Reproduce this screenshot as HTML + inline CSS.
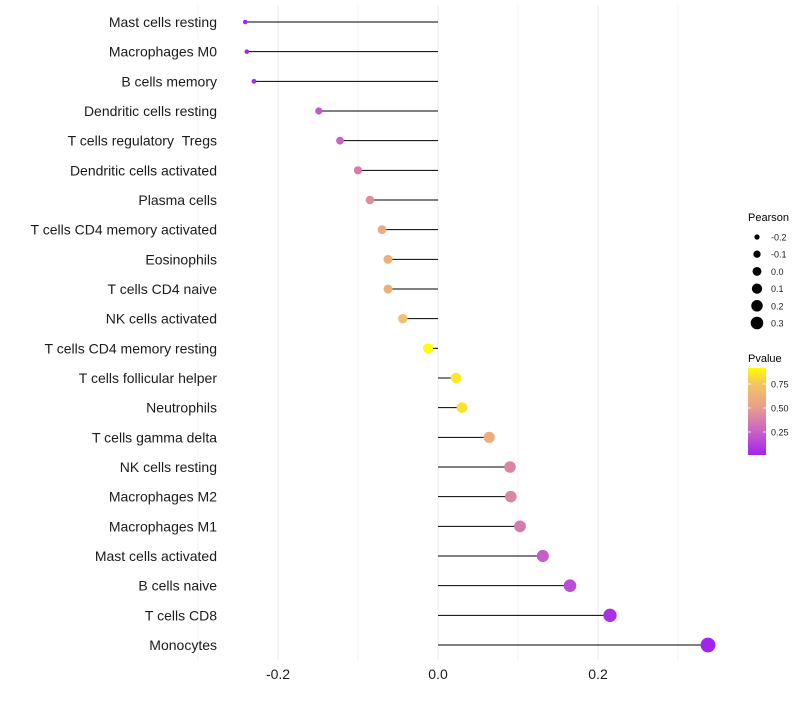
<!DOCTYPE html>
<html><head><meta charset="utf-8"><style>
body{margin:0;background:#fff;font-family:"Liberation Sans",sans-serif;}
svg text{font-family:"Liberation Sans",sans-serif;}
</style></head><body>
<svg id="chart" width="800" height="700"></svg>
<script>
const categories=["Mast cells resting","Macrophages M0","B cells memory","Dendritic cells resting","T cells regulatory \u00a0Tregs","Dendritic cells activated","Plasma cells","T cells CD4 memory activated","Eosinophils","T cells CD4 naive","NK cells activated","T cells CD4 memory resting","T cells follicular helper","Neutrophils","T cells gamma delta","NK cells resting","Macrophages M2","Macrophages M1","Mast cells activated","B cells naive","T cells CD8","Monocytes"];
const pearson=[-0.241,-0.239,-0.230,-0.149,-0.1225,-0.100,-0.085,-0.070,-0.0625,-0.0625,-0.044,-0.0125,0.0225,0.030,0.064,0.090,0.091,0.1025,0.131,0.165,0.215,0.3375];
const pvalues=[0.02,0.03,0.05,0.22,0.26,0.36,0.44,0.58,0.62,0.62,0.72,0.92,0.86,0.84,0.6,0.4,0.4,0.36,0.24,0.17,0.06,0.01];
const xTicks=[-0.2,0.0,0.2];
const xTickLabels=["-0.2","0.0","0.2"];
const sizeLegend=[-0.2,-0.1,0.0,0.1,0.2,0.3];
const sizeLegendLabels=["-0.2","-0.1","0.0","0.1","0.2","0.3"];
const colorLegendTicks=[0.75,0.50,0.25];
const colorLegendLabels=["0.75","0.50","0.25"];

const NS="http://www.w3.org/2000/svg";
const svg=document.getElementById('chart');
const x=v=>438+v*800;
const y=i=>22+i*(623/21);
const r=v=>Math.sqrt(Math.max(2,5+(v+0.241)/0.5785*50));
const rl=v=>Math.sqrt(Math.max(1.5,4+(v+0.241)/0.5785*38));
const stops=[[0,[160,32,240]],[0.25,[200,96,200]],[0.5,[232,158,140]],[0.75,[244,196,100]],[0.92,[255,255,0]]];
function col(p){
  if(p<=stops[0][0])return 'rgb('+stops[0][1]+')';
  for(let k=1;k<stops.length;k++){
    if(p<=stops[k][0]){const a=stops[k-1],b=stops[k],t=(p-a[0])/(b[0]-a[0]);
      return 'rgb('+a[1].map((c,j)=>Math.round(c+(b[1][j]-c)*t)).join(',')+')';}
  }
  return 'rgb(255,255,0)';
}
function el(t,a,parent){const e=document.createElementNS(NS,t);for(const k in a)e.setAttribute(k,a[k]);(parent||svg).appendChild(e);return e;}

for(let k=-3;k<=3;k++){
  const v=k/10;
  const g=el('line',{x1:x(v),x2:x(v),y1:5,y2:660,stroke:k%2===0?'#ebebeb':'#f3f3f3','stroke-width':1});
  
  
}
categories.forEach((c,i)=>{
  const ln=el('line',{x1:x(0),x2:x(pearson[i]),y1:y(i),y2:y(i),stroke:'#000','stroke-width':1});
  
  
  const pt=el('circle',{cx:x(pearson[i]),cy:y(i),r:r(pearson[i]),fill:col(pvalues[i])});
  
  
  const t=el('text',{x:217,y:y(i)+5,'text-anchor':'end','font-size':14,fill:'#1a1a1a'});
  t.textContent=c;
  
  
});
xTicks.forEach((v,i)=>{
  const t=el('text',{x:x(v),y:679,'text-anchor':'middle','font-size':14,fill:'#1a1a1a'});
  t.textContent=xTickLabels[i];
  
  
});
const lt=el('text',{x:748,y:221,'font-size':11,fill:'#000'});lt.textContent='Pearson';


sizeLegend.forEach((v,i)=>{
  const cy=237+i*17.2;
  const c=el('circle',{cx:757,cy:cy,r:rl(v),fill:'#000'});
  
  
  const t=el('text',{x:771,y:cy+3.5,'font-size':9,fill:'#1a1a1a'});t.textContent=sizeLegendLabels[i];
  
  
});
const ct=el('text',{x:748,y:362,'font-size':11,fill:'#000'});ct.textContent='Pvalue';


const defs=el('defs',{});
const lg=el('linearGradient',{id:'pg',x1:0,y1:1,x2:0,y2:0},defs);
for(let k=0;k<=10;k++){const p=0.01+k*(0.917-0.01)/10;el('stop',{offset:k/10,'stop-color':col(p)},lg);}
const bar=el('rect',{x:748,y:368,width:18,height:87,fill:'url(#pg)'});


colorLegendTicks.forEach((v,i)=>{
  const yy=432-(v-0.25)*96;
  el('line',{x1:748,x2:751,y1:yy,y2:yy,stroke:'#fff','stroke-width':0.8});
  el('line',{x1:763,x2:766,y1:yy,y2:yy,stroke:'#fff','stroke-width':0.8});
  const t=el('text',{x:771,y:yy+3.5,'font-size':9,fill:'#1a1a1a'});t.textContent=colorLegendLabels[i];
  
  
});
</script>
</body></html>
